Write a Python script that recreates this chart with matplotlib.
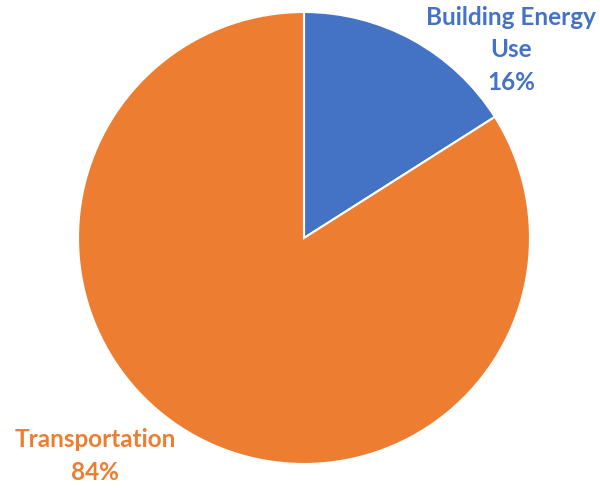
import matplotlib.pyplot as plt

labels = ['Building Energy\nUse', 'Transportation']
shares = [16, 84]
colors = ['#4472C4', '#ED7D31']

W, H = 600, 489
fig = plt.figure(figsize=(W / 100, H / 100), dpi=100)
ax = fig.add_axes([0, 0, 1, 1])

ax.pie(shares, colors=colors, startangle=90, counterclock=False,
       center=(304, H - 239), radius=226,
       wedgeprops=dict(edgecolor='white', linewidth=1.5))

# pie() resets the view, so fix it afterwards
ax.set_xlim(0, W)
ax.set_ylim(0, H)
ax.set_aspect('equal')
ax.axis('off')

font = dict(family=['Lato', 'DejaVu Sans'], fontweight='bold', fontsize=17.5,
            ha='center', va='center', linespacing=1.5)
ax.text(511, H - 50, f'{labels[0]}\n{shares[0]}%', color=colors[0], **font)
ax.text(95, H - 456, f'{labels[1]}\n{shares[1]}%', color=colors[1], **font)

fig.savefig('out.png', dpi=100)
